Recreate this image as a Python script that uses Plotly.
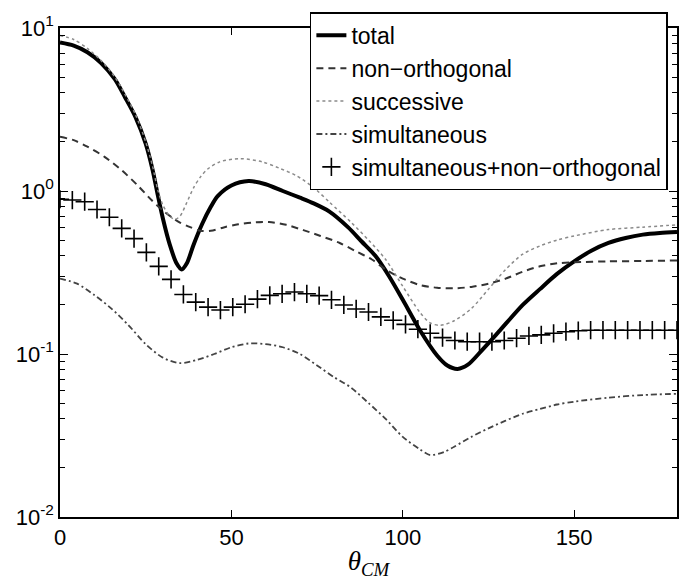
import plotly.graph_objects as go

theta_total = [0, 4, 8, 12, 16, 19, 22, 25, 27, 28.5, 30, 32, 34, 35.5, 37, 39, 41.5, 44, 46, 50, 55, 60, 65, 70, 74, 78.5, 84, 88, 92, 96, 100, 105, 110, 113, 116, 119, 123, 128, 135, 140, 145, 150, 155, 160, 165, 170, 175, 180]
total = [8.15, 7.8, 7.1, 6.1, 4.85, 3.75, 2.85, 1.95, 1.35, 0.95, 0.68, 0.47, 0.36, 0.33, 0.36, 0.47, 0.63, 0.8, 0.93, 1.08, 1.15, 1.1, 1.0, 0.91, 0.84, 0.75, 0.6, 0.49, 0.4, 0.3, 0.215, 0.14, 0.098, 0.085, 0.081, 0.086, 0.105, 0.137, 0.2, 0.25, 0.31, 0.37, 0.43, 0.48, 0.515, 0.54, 0.553, 0.56]

theta_nonorth = [0, 4, 8, 13, 18, 22.7, 26.7, 30, 33, 35, 38, 41, 44, 48, 52, 56, 61, 66, 71, 76, 81.6, 86, 91, 95, 100, 105, 110, 115, 120, 125, 130, 135, 140, 145, 150, 160, 170, 180]
nonorth = [2.15, 2.05, 1.87, 1.62, 1.34, 1.08, 0.88, 0.76, 0.68, 0.64, 0.6, 0.57, 0.57, 0.6, 0.625, 0.64, 0.645, 0.62, 0.575, 0.53, 0.48, 0.43, 0.38, 0.33, 0.29, 0.265, 0.255, 0.253, 0.258, 0.27, 0.29, 0.32, 0.345, 0.36, 0.365, 0.37, 0.372, 0.375]

theta_succ = [0, 4, 8, 12, 16, 19, 22, 25, 27, 28.5, 30, 32, 33.5, 35, 37, 39, 41, 43, 46.6, 52.5, 59, 64, 69, 74, 78.7, 85, 90, 95, 100, 105, 108, 111, 115, 120, 125, 130, 135, 140, 145, 150, 160, 170, 180]
succ = [9.0, 8.5, 7.5, 6.3, 5.0, 3.9, 2.95, 2.0, 1.42, 1.02, 0.82, 0.7, 0.67, 0.7, 0.85, 1.05, 1.22, 1.36, 1.51, 1.58, 1.51, 1.38, 1.24, 1.05, 0.85, 0.64, 0.5, 0.38, 0.26, 0.18, 0.155, 0.15, 0.16, 0.19, 0.25, 0.33, 0.41, 0.46, 0.5, 0.53, 0.58, 0.6, 0.62]

theta_simul = [0, 5, 10, 15, 20, 25, 30, 35, 40, 45, 50, 55, 60, 65, 70, 75, 80, 85, 90, 95, 100, 105, 108, 112, 115, 120, 125, 130, 135, 140, 145, 150, 160, 170, 180]
simul = [0.29, 0.27, 0.23, 0.19, 0.15, 0.115, 0.095, 0.088, 0.092, 0.10, 0.11, 0.116, 0.115, 0.11, 0.1, 0.085, 0.072, 0.062, 0.05, 0.04, 0.031, 0.026, 0.024, 0.025, 0.027, 0.031, 0.035, 0.039, 0.043, 0.046, 0.049, 0.051, 0.054, 0.056, 0.057]

theta_sn = [0, 3.6, 7.2, 10.8, 14.4, 18, 21.6, 25.2, 28.8, 32.4, 36, 39.6, 43.2, 46.8, 50.4, 54, 57.6, 61.2, 64.8, 68.4, 72, 75.6, 79.2, 82.8, 86.4, 90, 93.6, 97.2, 100.8, 104.4, 108, 111.6, 115.2, 118.8, 122.4, 126, 129.6, 133.2, 136.8, 140.4, 144, 147.6, 151.2, 154.8, 158.4, 162, 165.6, 169.2, 172.8, 176.4, 180]
simul_nonorth = [0.89, 0.88, 0.86, 0.77, 0.69, 0.59, 0.51, 0.42, 0.345, 0.287, 0.232, 0.208, 0.194, 0.186, 0.194, 0.202, 0.217, 0.229, 0.234, 0.24, 0.234, 0.228, 0.215, 0.2, 0.189, 0.181, 0.169, 0.161, 0.152, 0.142, 0.134, 0.126, 0.121, 0.119, 0.119, 0.119, 0.121, 0.125, 0.129, 0.131, 0.134, 0.137, 0.139, 0.14, 0.14, 0.14, 0.14, 0.14, 0.14, 0.14, 0.14]

y_tickvals = [0.01, 0.1, 1, 10]
y_ticktext = ["10<sup>-2</sup>", "10<sup>-1</sup>", "10<sup>0</sup>", "10<sup>1</sup>"]
x_tickvals = [0, 50, 100, 150]

fig = go.Figure()
fig.add_trace(go.Scatter(x=theta_total, y=total, mode="lines", name="total",
                         line=dict(color="black", width=4, shape="spline", smoothing=0.8)))
fig.add_trace(go.Scatter(x=theta_nonorth, y=nonorth, mode="lines", name="non\u2212orthogonal",
                         line=dict(color="#333333", width=2, dash="7px,5px", shape="spline", smoothing=0.8)))
fig.add_trace(go.Scatter(x=theta_succ, y=succ, mode="lines", name="successive",
                         line=dict(color="#8a8a8a", width=1.5, dash="dot", shape="spline", smoothing=0.8)))
fig.add_trace(go.Scatter(x=theta_simul, y=simul, mode="lines", name="simultaneous",
                         line=dict(color="#444444", width=1.8, dash="6px,3px,2px,3px", shape="spline", smoothing=0.8)))
fig.add_trace(go.Scatter(x=theta_sn, y=simul_nonorth, mode="markers", name="simultaneous+non\u2212orthogonal",
                         marker=dict(symbol="cross-thin", size=13, line=dict(color="black", width=1.6))))

fig.update_layout(
    width=697, height=580,
    margin=dict(l=60, r=20, t=23, b=63),
    paper_bgcolor="white", plot_bgcolor="white",
    font=dict(family="Liberation Sans, Arial, sans-serif", color="black", size=22),
    showlegend=True,
    legend=dict(x=0.405, y=1.032, xanchor="left", yanchor="top",
                bgcolor="white", bordercolor="black", borderwidth=1.5,
                font=dict(size=23, family="Liberation Sans, Arial, sans-serif"),
                tracegroupgap=0),
    xaxis=dict(range=[0, 180], tickvals=x_tickvals, ticks="inside", ticklen=7,
               tickcolor="black", tickwidth=1.3,
               showline=True, linecolor="black", linewidth=1.5, mirror="ticks",
               showgrid=False, zeroline=False, tickfont=dict(size=22),
               title=dict(text="<i>θ</i><sub><i>CM</i></sub>",
                          font=dict(family="Liberation Serif, DejaVu Serif, serif", size=27),
                          standoff=0)),
    yaxis=dict(type="log", range=[-2, 1], tickvals=y_tickvals, ticktext=y_ticktext,
               ticks="inside", ticklen=8, tickcolor="black", tickwidth=1.3,
               minor=dict(ticks="inside", ticklen=5, dtick="D1", showgrid=False,
                          tickcolor="black", tickwidth=1.2),
               showline=True, linecolor="black", linewidth=1.5, mirror="ticks",
               showgrid=False, zeroline=False, tickfont=dict(size=22)),
)

fig.write_html("out.html")
